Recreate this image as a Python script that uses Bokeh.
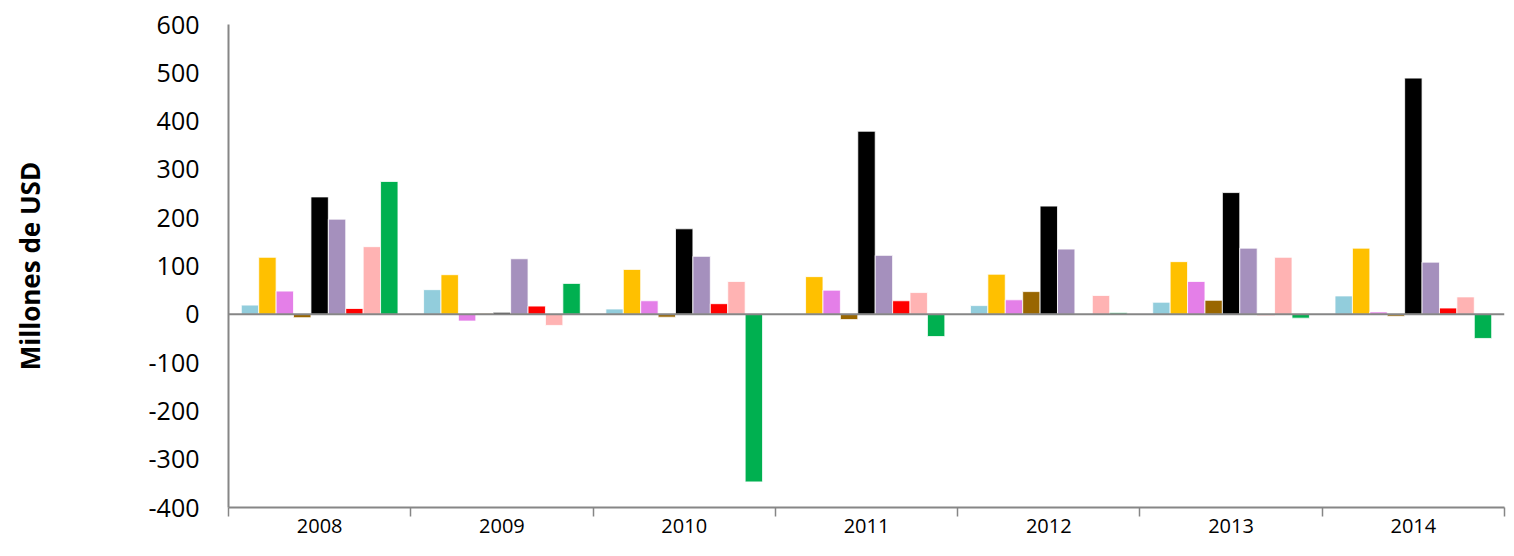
from bokeh.plotting import figure
from bokeh.models import ColumnDataSource, FixedTicker, Span, Range1d
from bokeh.embed import file_html
from bokeh.resources import INLINE

# ---- data ----
categories = ["2008", "2009", "2010", "2011", "2012", "2013", "2014"]

serie_1 = [19, 51, 11, 0, 18, 25, 38]          # light blue
serie_2 = [118, 82, 93, 78, 83, 109, 137]      # gold
serie_3 = [48, -14, 28, 50, 30, 68, 5]         # violet
serie_4 = [-7, 2, -6, -11, 47, 29, -4]         # brown
serie_5 = [243, 4, 177, 379, 224, 252, 489]    # black
serie_6 = [197, 115, 120, 122, 135, 137, 108]  # purple
serie_7 = [12, 17, 22, 28, 0, -2, 13]          # red
serie_8 = [140, -23, 68, 45, 39, 118, 36]      # pink
serie_9 = [275, 64, -347, -46, 3, -8, -50]     # green

y_ticks = [-400, -300, -200, -100, 0, 100, 200, 300, 400, 500, 600]

series = [serie_1, serie_2, serie_3, serie_4, serie_5, serie_6, serie_7, serie_8, serie_9]
colors = ["#92CDDC", "#FFC000", "#E47FE8", "#996600", "#000000",
          "#A590BD", "#FF0000", "#FFB3B3", "#00B050"]

FONT = "Open Sans"
n_groups = len(categories)
n_series = len(series)
bar_w = 0.0955

p = figure(width=1506, height=548, output_backend="svg", toolbar_location=None,
           x_range=Range1d(0, n_groups), y_range=Range1d(y_ticks[0], y_ticks[-1]),
           min_border_left=228, min_border_right=2, min_border_top=24,
           min_border_bottom=41)

for j, (vals, col) in enumerate(zip(series, colors)):
    xs = [i + 0.5 + (j - (n_series - 1) / 2) * bar_w for i in range(n_groups)]
    src = ColumnDataSource(dict(x=xs, top=vals))
    p.vbar(x="x", top="top", bottom=0, width=bar_w, source=src,
           fill_color=col, line_color="white", line_width=0.8)

p.add_layout(Span(location=0, dimension="width", line_color="#868686", line_width=2))

# x axis
xa = p.xaxis[0]
xa.ticker = FixedTicker(ticks=[i + 0.5 for i in range(n_groups)],
                        minor_ticks=list(range(n_groups + 1)))
xa.major_label_overrides = {i + 0.5: c for i, c in enumerate(categories)}
xa.major_tick_line_color = None
xa.minor_tick_in = 0
xa.minor_tick_out = 9
xa.minor_tick_line_color = "#868686"
xa.minor_tick_line_width = 1.5
xa.axis_line_color = "#868686"
xa.axis_line_width = 2
xa.major_label_text_font = FONT
xa.major_label_text_font_size = "20px"
xa.major_label_text_color = "#000000"
xa.major_label_standoff = 2

# y axis
ya = p.yaxis[0]
ya.ticker = FixedTicker(ticks=y_ticks)
ya.major_label_overrides = {t: str(t) for t in y_ticks}
ya.major_tick_line_color = None
ya.minor_tick_line_color = None
ya.axis_line_color = "#868686"
ya.axis_line_width = 2
ya.major_label_text_font = FONT
ya.major_label_text_font_size = "25px"
ya.major_label_text_color = "#000000"
ya.major_label_standoff = 23
ya.axis_label = "Millones de USD"
ya.axis_label_text_font = FONT
ya.axis_label_text_font_size = "26px"
ya.axis_label_text_font_style = "bold"
ya.axis_label_text_color = "#000000"
ya.axis_label_standoff = 98

p.xgrid.grid_line_color = None
p.ygrid.grid_line_color = None
p.outline_line_color = None

open("out.html", "w").write(file_html(p, INLINE))
